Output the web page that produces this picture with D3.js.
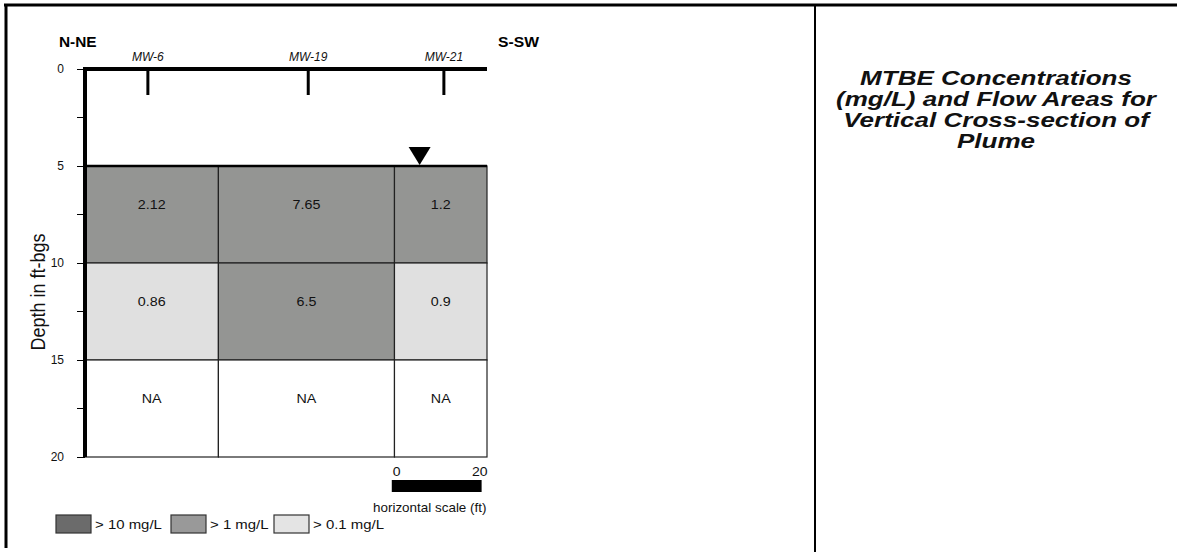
<!DOCTYPE html>
<html><head><meta charset="utf-8">
<script src="https://cdn.jsdelivr.net/npm/d3@7"></script>
<style>
html,body{margin:0;padding:0;background:#fff;}
text{font-family:"Liberation Sans",Arial,sans-serif;}
</style></head>
<body>
<svg id="c" width="1177" height="552"></svg>
<script>
// ---- data ----
const wells = ["MW-6", "MW-19", "MW-21"];
const wellPosFt = [14, 49.7, 79.9];
const columnEdgesFt = [0, 29.7, 68.9, 89.5];
const layerTops = [5, 10, 15];
const layerBottoms = [10, 15, 20];
const concRow1 = [2.12, 7.65, 1.2];
const concRow2 = [0.86, 6.5, 0.9];
const concRow3 = ["NA", "NA", "NA"];
const depthTicks = [0, 5, 10, 15, 20];
const minorTicks = [2.5, 7.5, 12.5, 17.5];
const waterTableFt = 74.5, waterTableDepth = 5;
const scaleBarStartFt = 68.3, scaleBarLen = 20;
const legendLabels = ["> 10 mg/L", "> 1 mg/L", "> 0.1 mg/L"];
const legendThresholds = [10, 1, 0.1];
const legendColors = ["#6b6b6b", "#999999", "#e4e4e4"];
const titleLines = ["MTBE Concentrations", "(mg/L) and Flow Areas for", "Vertical Cross-section of", "Plume"];

const svg = d3.select("#c");
svg.append("rect").attr("width",1177).attr("height",552).attr("fill","#fff");

// helper: horizontally stretched text
function txt(parent, xx, yy, s, size, opts = {}) {
  const t = parent.append("text")
    .attr("transform", `translate(${xx},${yy}) scale(${opts.sx || 1},1)`)
    .attr("font-size", size)
    .attr("fill", opts.fill || "#111")
    .attr("text-anchor", opts.anchor || "start")
    .text(s);
  if (opts.bold) t.attr("font-weight", "bold");
  if (opts.italic) t.attr("font-style", "italic");
  if (opts.dy) t.attr("dy", opts.dy);
  return t;
}

// frame
svg.append("line").attr("x1",4).attr("x2",1177).attr("y1",5).attr("y2",5).attr("stroke","#000").attr("stroke-width",3);
svg.append("line").attr("x1",6).attr("x2",6).attr("y1",4).attr("y2",548).attr("stroke","#000").attr("stroke-width",3);
svg.append("line").attr("x1",815).attr("x2",815).attr("y1",4).attr("y2",552).attr("stroke","#000").attr("stroke-width",2);

const x = d3.scaleLinear().domain([0, 89.5]).range([85, 487]);
const y = d3.scaleLinear().domain([0, 20]).range([69, 457]);

function fillFor(v){
  if (typeof v !== "number") return "#fff";
  if (v > legendThresholds[0]) return "#6b6b6b";
  if (v > legendThresholds[1]) return "#949593";
  if (v > legendThresholds[2]) return "#e0e0e0";
  return "#fff";
}
const rows = [concRow1, concRow2, concRow3];
const cells = [];
rows.forEach((r,i)=>r.forEach((v,j)=>cells.push({v, top:layerTops[i], bot:layerBottoms[i], x0:columnEdgesFt[j], x1:columnEdgesFt[j+1]})));

const g = svg.append("g");
g.selectAll("rect.cell").data(cells).join("rect").attr("class","cell")
  .attr("x",d=>x(d.x0)).attr("y",d=>y(d.top))
  .attr("width",d=>x(d.x1)-x(d.x0)).attr("height",d=>y(d.bot)-y(d.top))
  .attr("fill",d=>fillFor(d.v)).attr("stroke","#222").attr("stroke-width",1.2);
cells.forEach(d => txt(g, (x(d.x0)+x(d.x1))/2, y(d.top+2), String(d.v), 13, {sx:1.1, anchor:"middle", dy:"0.35em"}));

// top of saturated zone line (thicker)
g.append("line").attr("x1",x(0)).attr("x2",x(89.5)).attr("y1",y(5)).attr("y2",y(5)).attr("stroke","#000").attr("stroke-width",2.5);

// left axis
const yAxis = d3.axisLeft(y).tickValues(depthTicks).tickSize(8).tickFormat("");
const ya = svg.append("g").attr("transform",`translate(${x(0)},0)`).call(yAxis);
ya.select(".domain").remove();
depthTicks.forEach(t => txt(svg, 64, y(t), String(t), 12, {sx:1.0, anchor:"end", dy:"0.35em"}));
svg.append("g").selectAll("line").data(minorTicks).join("line")
  .attr("x1",x(0)-8).attr("x2",x(0)).attr("y1",d=>y(d)).attr("y2",d=>y(d)).attr("stroke","#000");
svg.append("line").attr("x1",x(0)).attr("x2",x(0)).attr("y1",y(0)-2).attr("y2",y(20)).attr("stroke","#000").attr("stroke-width",4);
// ground surface line
svg.append("line").attr("x1",x(0)-2).attr("x2",x(89.5)).attr("y1",y(0)).attr("y2",y(0)).attr("stroke","#000").attr("stroke-width",4);

// wells
svg.append("g").selectAll("line").data(wellPosFt).join("line")
  .attr("x1",d=>x(d)).attr("x2",d=>x(d)).attr("y1",y(0)).attr("y2",y(0)+26).attr("stroke","#000").attr("stroke-width",3);
wells.forEach((w,i)=>txt(svg, x(wellPosFt[i]), y(0)-8, w, 12, {italic:true, anchor:"middle"}));

// direction labels
txt(svg, 59, 47, "N-NE", 14, {bold:true, sx:1.1, fill:"#000"});
txt(svg, 498, 47, "S-SW", 14, {bold:true, sx:1.12, fill:"#000"});

// y title
svg.append("text").attr("transform",`translate(45,${y(11.5)}) rotate(-90) scale(1,1.1)`).attr("text-anchor","middle")
  .attr("font-size",18).attr("fill","#111").text("Depth in ft-bgs");

// water table
const wx = x(waterTableFt), wy = y(waterTableDepth);
svg.append("path").attr("d",`M${wx-11},${wy-19}L${wx+11},${wy-19}L${wx},${wy-1}Z`).attr("fill","#000");

// horizontal scale
const sb = svg.append("g");
sb.append("rect").attr("x",x(scaleBarStartFt)).attr("y",480).attr("width",x(scaleBarStartFt+scaleBarLen)-x(scaleBarStartFt)).attr("height",12).attr("fill","#000");
txt(sb, x(scaleBarStartFt)+1, 476, "0", 13, {sx:1.08});
txt(sb, x(scaleBarStartFt+scaleBarLen)+6, 476, String(scaleBarLen), 13, {sx:1.08, anchor:"end"});
txt(sb, 373, 512, "horizontal scale (ft)", 12, {sx:1.12});

// legend
const legX = [56, 171, 274];
const lg = svg.append("g");
legendLabels.forEach((l,i)=>{
  lg.append("rect").attr("x",legX[i]).attr("y",515).attr("width",35).attr("height",18).attr("fill",legendColors[i]).attr("stroke","#333").attr("stroke-width",1.2);
  txt(lg, legX[i]+39, 529, l, 13, {sx:1.15});
});

// title
titleLines.forEach((l,i)=>txt(svg, 996, 85 + i*21, l, 20.5, {bold:true, italic:true, anchor:"middle", sx:1.27}));
</script>
</body></html>
